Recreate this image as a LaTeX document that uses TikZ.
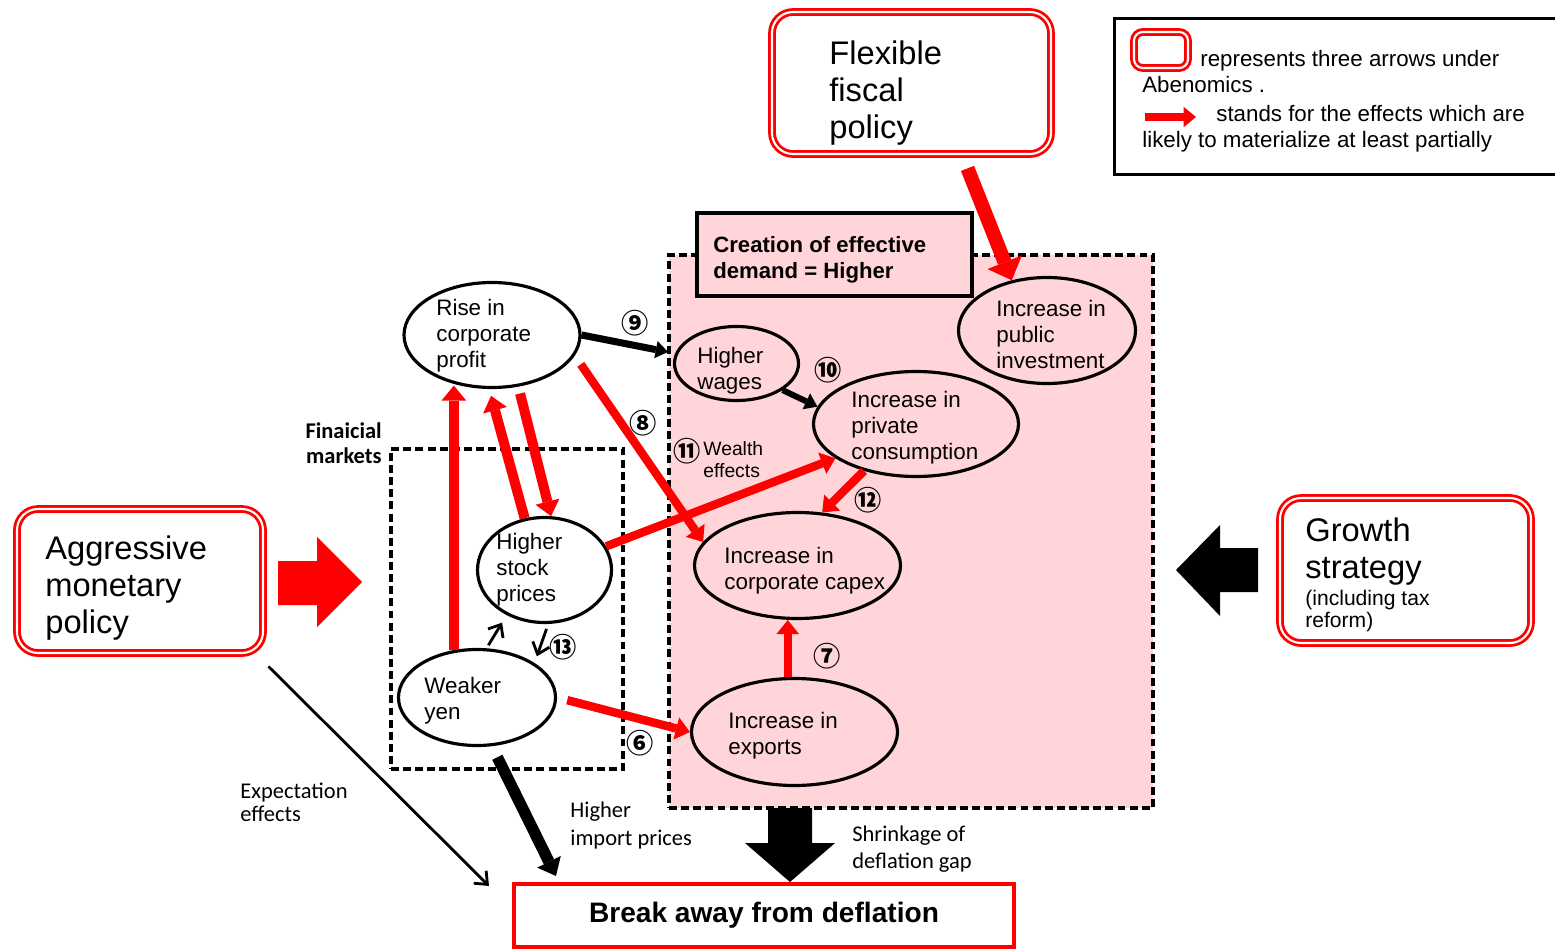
\documentclass[tikz,border=0pt]{standalone}
\usepackage{fontspec}
\setmainfont{Liberation Sans}
\newfontfamily\calib{Carlito}
\newfontfamily\cjk{Noto Sans CJK JP}
\usetikzlibrary{arrows.meta,shapes.geometric,calc}
\definecolor{pk}{RGB}{255,213,217}
\definecolor{rd}{RGB}{255,0,0}
\tikzset{
  every node/.style={inner sep=0},
  sz/.style 2 args={minimum width=#1*0.02cm, minimum height=#2*0.02cm},
  ell/.style={ellipse, draw, line width=1.8pt},
  dbox/.style={draw=rd, line width=1.6pt, double=white, double distance=1.2pt, rounded corners=12pt},
  dashbox/.style={draw, line width=2pt, dash pattern=on 4.5pt off 2.4pt},
  nt/.style={anchor=north west, align=left, font=\fontsize{12.75}{14.7}\selectfont},
  bt/.style={anchor=north west, align=left, font=\fontsize{18.6}{21.3}\selectfont},
  lg/.style={anchor=base west, font=\fontsize{12.7}{15}\selectfont},
  cn/.style={font=\cjk\bfseries\fontsize{15.5}{16}\selectfont},
  bk/.style={draw=black, line width=4pt, -{Triangle[length=7pt,width=10pt,line width=0pt]}},
  rm/.style={draw=rd, line width=4.8pt, -{Triangle[length=8pt,width=13pt,line width=0pt]}},
  rt/.style={draw=rd, line width=5.7pt, -{Triangle[length=8.5pt,width=14pt,line width=0pt]}},
  thin/.style={draw=black, line width=1.6pt, -{Straight Barb[length=6pt,width=10pt]}}
}
\begin{document}
\begin{tikzpicture}[x=0.02cm,y=-0.02cm]
\useasboundingbox (0,0) rectangle (1555,949);

% regions
\node[dashbox, fill=pk, sz={484}{553}] (dem) at (911,531.5) {};
\node[dashbox, sz={232}{320}] (finbox) at (507,609) {};
\node[draw, line width=1.8pt, fill=pk, sz={275}{83}] (crebox) at (834.5,254.5) {};
\node[nt, font=\bfseries\fontsize{12.6}{14.7}\selectfont] (cre) at (713,236) {Creation of effective\\demand = Higher};
\node[anchor=north east, align=right, font=\calib\bfseries\fontsize{12.8}{14.7}\selectfont] (fin) at (382,422) {Finaicial\\markets};

% legend
\draw[line width=1.8pt] (1114.5,18.5) rectangle (1580,174.5);
\node[dbox, rounded corners=5pt, sz={54}{36}] (lbox) at (1161,50) {};
\node[lg] (l1) at (1200,67) {represents three arrows under};
\node[lg] (l2) at (1142,93) {Abenomics .};
\coordinate (la) at (1145,117);
\coordinate (lb) at (1196,117);
\draw[rd, line width=5pt, -{Triangle[length=7pt,width=11.5pt,line width=0pt]}] (la) -- (lb);
\node[lg] (l3) at (1216,122) {stands for the effects which are};
\node[lg] (l4) at (1142,148) {likely to materialize at least partially};

% policy boxes
\node[dbox, sz={246}{144}] (amp) at (140,581) {};
\node[bt] (ampt) at (45,535) {Aggressive\\monetary\\policy};
\node[dbox, sz={279}{142}] (fis) at (911.5,83) {};
\node[bt] (fist) at (829,40) {Flexible\\fiscal\\policy};
\node[dbox, sz={251}{145}] (gro) at (1405.5,570.5) {};
\node[bt] (grot) at (1305,517) {Growth\\strategy};
\node[nt, font=\fontsize{12}{12.5}\selectfont] (grot2) at (1305,590) {(including tax\\reform)};
\node[draw=rd, line width=2.3pt, sz={500}{63}, font=\bfseries\fontsize{16}{18}\selectfont] (brk) at (764,915.5) {Break away from deflation};

% ellipses
\node[ell, fill=white, sz={176}{105}] (rise) at (492,335) {};
\node[ell, fill=pk, sz={124}{74}] (wag) at (736.5,363.5) {};
\node[ell, fill=pk, sz={205}{105}] (con) at (916,424) {};
\node[ell, fill=pk, sz={177}{106}] (pub) at (1047,330.5) {};
\node[ell, fill=white, sz={134}{105}] (stk) at (544.5,570) {};
\node[ell, fill=pk, sz={206}{106}] (cap) at (797.5,565.5) {};
\node[ell, fill=white, sz={157}{96}] (yen) at (477,697.5) {};
\node[ell, fill=pk, sz={206}{107}] (exp) at (794.5,732) {};

\node[nt] (riset) at (436,299) {Rise in\\corporate\\profit};
\node[nt] (wagt) at (697,347) {Higher\\wages};
\node[nt] (cont) at (851,391) {Increase in\\private\\consumption};
\node[nt] (pubt) at (996,300) {Increase in\\public\\investment};
\node[nt] (stkt) at (496,533) {Higher\\stock\\prices};
\node[nt] (capt) at (724,547) {Increase in\\corporate capex};
\node[nt] (yent) at (424,677) {Weaker\\yen};
\node[nt] (expt) at (728,712) {Increase in\\exports};

% block arrows
\fill[rd] (278,561) -- (317,561) -- (317,537) -- (362,582) -- (317,627) -- (317,605) -- (278,605) -- cycle;
\fill[black] (1258,548) -- (1220,548) -- (1220,525) -- (1176,570) -- (1220,616) -- (1220,592) -- (1258,592) -- cycle;
\fill[black] (768,808) -- (812,808) -- (812,843) -- (835,843) -- (790,882) -- (745,843) -- (768,843) -- cycle;

% connectors
\coordinate (n9) at (668,352);
\draw[bk] (rise.east) -- (n9);
\draw[rm, shorten <=6pt] (rise.-14) -- (cap.166);
\draw[bk, line width=3.4pt] (wag.-30) -- (con.170);
\draw[rm] (stk.21) -- (con.-157);
\draw[rm] (con.-138) -- (cap.65);
\draw[rm] (exp.97) -- (exp.97 |- cap.south);
\draw[rm, shorten <=6pt] (yen.east) -- (exp.west);
\draw[rt, shorten >=-2pt] (yen.116) -- (yen.116 |- rise.south);
\draw[rt, shorten >=4pt] (stk.111) -- (rise.-93);
\draw[rt, shorten <=4pt] (rise.-63) -- (stk.83);
\draw[thin, shorten <=2pt, shorten >=5pt] (yen.79) -- (stk.-130);
\draw[thin, shorten <=3pt, shorten >=4pt] (stk.-86) -- (yen.31);
\draw[draw=black, line width=6.5pt, shorten <=7pt, -{Triangle[length=9pt,width=15pt,line width=0pt]}] (yen.-73) -- ($(brk.north west)+(44,-6)$);
\draw[thin] ($(amp.south east)+(4,12)$) -- ($(brk.north west)+(-23,4)$);
\draw[draw=rd, line width=8pt, -{Triangle[length=11pt,width=21pt,line width=0pt]}] ($(fis.south)+(56,13)$) -- (pub.125);

% numbers
\node[cn] (c9) at (635,323) {⑨};
\node[cn] (c8) at (643,423) {⑧};
\node[cn] (c10) at (828,370) {⑩};
\node[cn] (c11) at (687,451) {⑪};
\node[cn] (c12) at (868,500) {⑫};
\node[cn] (c7) at (827,656) {⑦};
\node[cn] (c6) at (640,743) {⑥};
\node[cn] (c13) at (563,647) {⑬};

% labels
\node[nt, font=\fontsize{11}{12.5}\selectfont] (wea) at (703,441) {Wealth\\effects};
\node[nt, font=\calib\fontsize{12.8}{13}\selectfont] (expe) at (240,783) {Expectation\\effects};
\node[nt, font=\calib\fontsize{12.8}{15.9}\selectfont] (imp) at (570,802) {Higher\\import prices};
\node[nt, font=\calib\fontsize{12.8}{15.3}\selectfont] (shr) at (852,826) {Shrinkage of\\deflation gap};
\end{tikzpicture}
\end{document}
